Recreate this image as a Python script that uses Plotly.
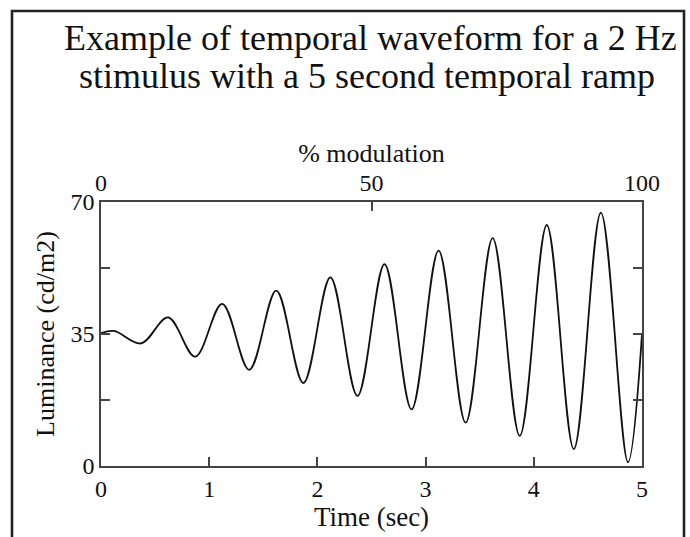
import plotly.graph_objects as go

# extrema of the luminance waveform
time_s = [0.00, 0.12, 0.37, 0.62, 0.87, 1.12, 1.37, 1.62, 1.87, 2.12, 2.37,
          2.62, 2.87, 3.12, 3.37, 3.62, 3.87, 4.12, 4.37, 4.62, 4.87, 5.00]
luminance = [35.2, 35.8, 32.5, 39.4, 29.0, 43.0, 25.5, 46.5, 22.0, 50.0, 18.6,
             53.5, 15.0, 57.1, 11.5, 60.4, 8.0, 63.9, 4.5, 67.2, 1.0, 35.0]

x_ticks = [0, 1, 2, 3, 4, 5]
y_ticks = [0, 17.5, 35, 52.5, 70]
y_labels = ["0", "", "35", "", "70"]
mod_ticks = [0, 50, 100]

TITLE_1 = "Example of temporal waveform for a 2 Hz"
TITLE_2 = "stimulus with a 5 second temporal ramp"

FONT = "Liberation Serif"
INK = "#111111"
AXIS = "#444444"

# plot area in pixels: x 101..642, y 202..466
L, R, T, B = 101, 48, 202, 71
W, H = 690, 537
pw, ph = W - L - R, H - T - B


def px(x):
    return (x - L) / pw


def py(y):
    return (H - B - y) / ph


fig = go.Figure()
fig.add_trace(go.Scatter(
    x=time_s, y=luminance, mode="lines",
    line=dict(color=INK, width=1.8, shape="spline", smoothing=1.0),
    showlegend=False, hoverinfo="skip",
))
# invisible trace to carry the top % modulation axis
fig.add_trace(go.Scatter(x=[0, 100], y=[0, 0], xaxis="x2", mode="markers",
                         marker=dict(opacity=0), showlegend=False,
                         hoverinfo="skip"))

tick_style = dict(ticks="inside", ticklen=9, tickwidth=1.5, tickcolor=AXIS,
                  showline=True, linecolor=AXIS, linewidth=1.5,
                  showgrid=False, zeroline=False, automargin=False,
                  tickfont=dict(size=24))

fig.update_layout(
    width=W, height=H,
    margin=dict(l=L, r=R, t=T, b=B),
    paper_bgcolor="white", plot_bgcolor="white",
    font=dict(family=FONT, size=24, color=INK),
    xaxis=dict(
        range=[0, 5], tickvals=x_ticks, **tick_style,
        title=dict(text="Time (sec)", standoff=7, font=dict(size=27)),
    ),
    xaxis2=dict(
        range=[0, 100], tickvals=mod_ticks, overlaying="x", side="top",
        **tick_style,
        title=dict(text="% modulation", standoff=0, font=dict(size=26)),
    ),
    yaxis=dict(
        range=[0, 70], tickvals=y_ticks, ticktext=y_labels, mirror="ticks",
        **tick_style,
        title=dict(text="Luminance (cd/m2)", standoff=8, font=dict(size=26)),
    ),
)

fig.add_annotation(text=TITLE_1, xref="paper", yref="paper", x=px(370),
                   y=py(38), xanchor="center", yanchor="middle",
                   showarrow=False, font=dict(size=36, family=FONT, color=INK))
fig.add_annotation(text=TITLE_2, xref="paper", yref="paper", x=px(367),
                   y=py(76), xanchor="center", yanchor="middle",
                   showarrow=False, font=dict(size=36, family=FONT, color=INK))

# outer frame around the whole figure, as one open path in pixel terms
x_l, x_r, y_t, y_b = px(12), px(684), py(11), py(560)
fig.add_shape(type="path", xref="paper", yref="paper",
              path=f"M {x_l},{y_b} L {x_l},{y_t} L {x_r},{y_t} L {x_r},{y_b}",
              line=dict(color="#222222", width=2.6))

# drop the browser's default body margin so the figure sits at 0,0
fig.write_html("out.html", config={"displayModeBar": False},
               post_script="document.body.style.margin = '0';")
